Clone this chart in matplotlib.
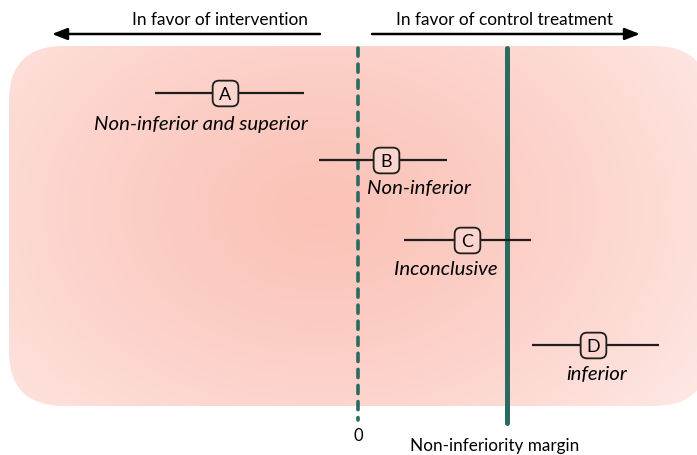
import numpy as np
import matplotlib.pyplot as plt
from matplotlib.patches import FancyBboxPatch, BoxStyle
from matplotlib.colors import to_rgb

plt.rcParams['font.family'] = ['Lato', 'DejaVu Sans']

# trial results, effect on the x scale where 0 = no difference and 1 = margin
letters = ['A', 'B', 'C', 'D']
point = [-0.89, 0.19, 0.73, 1.58]
lower = [-1.36, -0.26, 0.31, 1.17]
upper = [-0.36, 0.60, 1.16, 2.02]
verdicts = ['Non-inferior and superior', 'Non-inferior', 'Inconclusive', 'inferior']
rows = [94, 161, 241, 346]

W, H = 697, 456
X0, SCALE = 358, 149  # pixel of zero, pixels per unit

fig = plt.figure(figsize=(W / 100, H / 100), dpi=100)

# background layer in pixel coords
bg = fig.add_axes([0, 0, 1, 1])
bg.set_xlim(0, W)
bg.set_ylim(H, 0)
bg.axis('off')

yy, xx = np.mgrid[0:H, 0:W]
d = np.sqrt(((xx - 320) / 440.0) ** 2 + ((yy - 210) / 320.0) ** 2)
d = np.clip(d, 0, 1)[..., None] ** 1.3
c_in = np.array(to_rgb('#fbc3b8'))
c_out = np.array(to_rgb('#fee6e2'))
img = c_in * (1 - d) + c_out * d
im = bg.imshow(img, extent=(0, W, H, 0), zorder=0)
panel = FancyBboxPatch((9, 47), 700, 360,
                       boxstyle='round,pad=0,rounding_size=55',
                       fc='none', ec='none', transform=bg.transData)
bg.add_patch(panel)
im.set_clip_path(panel)

# direction arrows and captions
arrow = dict(arrowstyle='-|>,head_length=0.9,head_width=0.35', lw=1.8,
             color='black', shrinkA=0, shrinkB=0)
bg.annotate('', xy=(52, 35), xytext=(320, 35), arrowprops=arrow)
bg.annotate('', xy=(640, 35), xytext=(372, 35), arrowprops=arrow)
bg.text(220, 20, 'In favor of intervention', ha='center', va='center', fontsize=12.4)
bg.text(504, 20, 'In favor of control treatment', ha='center', va='center', fontsize=12.4)

# data layer
ax = fig.add_axes([0, 0, 1, 1])
ax.patch.set_alpha(0)
ax.set_xlim(-X0 / SCALE, (W - X0) / SCALE)
ax.set_ylim(H, 0)
ax.axis('off')

teal = '#2a6a61'
ax.plot([0, 0], [49, 421], color=teal, lw=2.6, ls=(0, (2.25, 2.2)),
        dash_capstyle='round', zorder=2)
ax.plot([1, 1], [49, 424], color=teal, lw=3.6, solid_capstyle='round', zorder=2)
ax.text(0, 436, '0', ha='center', va='center', fontsize=12)
ax.text(0.92, 446, 'Non-inferiority margin', ha='center', va='center', fontsize=12.3)

ax.hlines(rows, lower, upper, color='#1e1e1e', lw=1.6, zorder=3)

box = BoxStyle.Round(pad=0, rounding_size=0.25)(-0.5, -0.5, 1, 1, 1.0)
ax.plot(point, rows, ls='none', marker=box, ms=18.5, mfc='#fcd6ce',
        mec='#1e1e1e', mew=1.3, zorder=4)
for x, y, s in zip(point, rows, letters):
    ax.text(x, y + 1, s, ha='center', va='center', fontsize=13, zorder=5)

label_dx = [-24, 33, -21, 3]
label_dy = [31, 28, 29, 29]
for x, y, s, dx, dy in zip(point, rows, verdicts, label_dx, label_dy):
    ax.text(x + dx / SCALE, y + dy, s, ha='center', va='center',
            fontsize=14.7, style='italic', zorder=5)

fig.savefig('out.png', dpi=100)
